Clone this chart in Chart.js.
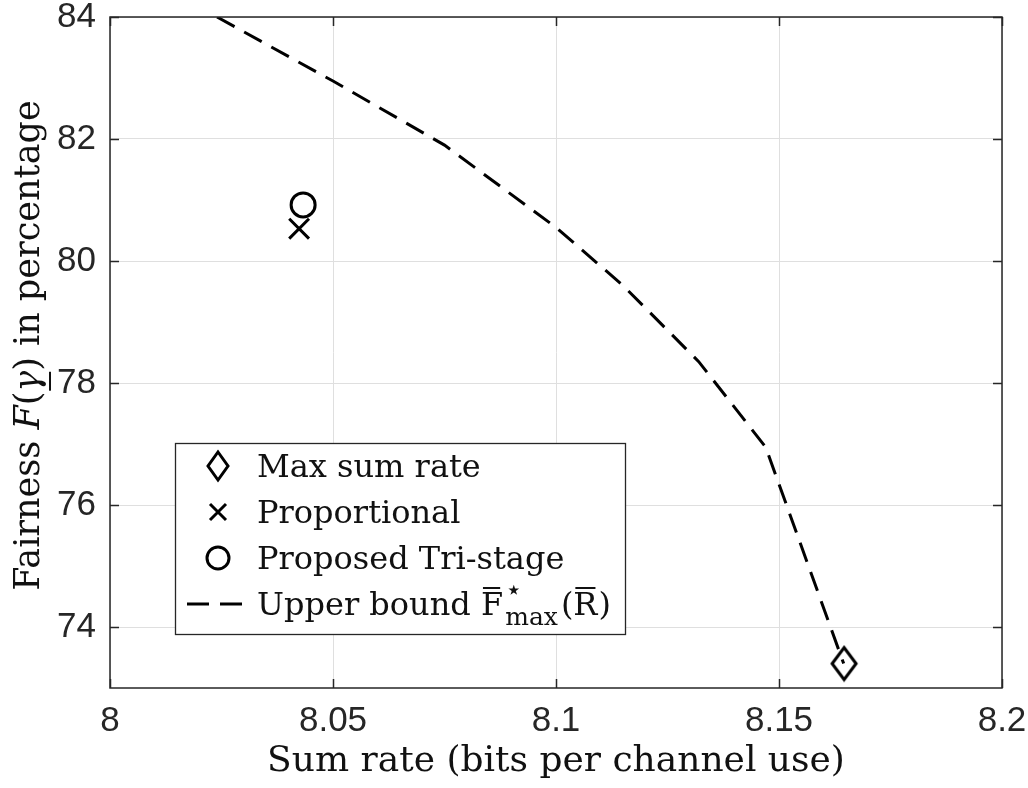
<!DOCTYPE html>
<html><head><meta charset="utf-8">
<script src="https://cdn.jsdelivr.net/npm/chart.js@4/dist/chart.umd.min.js"></script>
<style>html,body{margin:0;padding:0;background:#fff}#wrap{width:1028px;height:788px;position:relative}</style>
</head><body>
<div id="wrap"><canvas id="c" width="1028" height="788"></canvas></div>
<script>
// ---- data ----
const xTicks = [8, 8.05, 8.1, 8.15, 8.2];
const yTicks = [74, 76, 78, 80, 82, 84];
const seriesNames = ['Max sum rate', 'Proportional', 'Proposed Tri-stage', 'Upper bound'];
const maxSumX = [8.1646];
const maxSumY = [73.40];
const propX = [8.0424];
const propY = [80.53];
const triX = [8.0433];
const triY = [80.92];
const boundX = [8.024, 8.05, 8.075, 8.1, 8.115, 8.132, 8.147, 8.1645];
const boundY = [84.0, 82.95, 81.9, 80.55, 79.6, 78.35, 76.95, 73.4];

const pts = (xs, ys) => xs.map((x, i) => ({x: x, y: ys[i]}));
const AX = '#262626';

function diamondImg(w, h, lw) {
  const c = document.createElement('canvas');
  c.width = w + lw * 2; c.height = h + lw * 2;
  const g = c.getContext('2d');
  g.strokeStyle = '#000'; g.lineWidth = lw; g.lineJoin = 'miter';
  const cx = c.width / 2, cy = c.height / 2;
  g.beginPath();
  g.moveTo(cx, cy - h / 2); g.lineTo(cx + w / 2, cy); g.lineTo(cx, cy + h / 2); g.lineTo(cx - w / 2, cy); g.closePath();
  g.stroke();
  return c;
}

const frame = {
  id: 'frame',
  afterDraw(chart) {
    const {ctx, chartArea: a, scales} = chart;
    ctx.save();
    ctx.strokeStyle = AX; ctx.lineWidth = 1.5;
    ctx.strokeRect(a.left, a.top, a.right - a.left, a.bottom - a.top);
    ctx.beginPath();
    scales.x.ticks.forEach(t => {
      const px = Math.round(scales.x.getPixelForValue(t.value)) + 0.5;
      ctx.moveTo(px, a.bottom); ctx.lineTo(px, a.bottom - 9);
      ctx.moveTo(px, a.top); ctx.lineTo(px, a.top + 9);
    });
    scales.y.ticks.forEach(t => {
      const py = Math.round(scales.y.getPixelForValue(t.value)) + 0.5;
      ctx.moveTo(a.left, py); ctx.lineTo(a.left + 9, py);
      ctx.moveTo(a.right, py); ctx.lineTo(a.right - 9, py);
    });
    ctx.stroke();

    // y-axis title with italic math pieces
    const fs = 35;
    const pieces = [
      ['Fairness ', ''], ['F', 'italic '], ['(', ''], ['γ', 'italic ', true], [')', ''], [' in percentage', '']
    ];
    let total = 0;
    pieces.forEach(p => { ctx.font = p[1] + fs + 'px "DejaVu Serif"'; p.w = ctx.measureText(p[0]).width; total += p.w; });
    ctx.translate(27, (a.top + a.bottom) / 2 - 7);
    ctx.rotate(-Math.PI / 2);
    ctx.fillStyle = '#111'; ctx.textBaseline = 'alphabetic';
    let x = -total / 2;
    const base = 12;
    pieces.forEach(p => {
      ctx.font = p[1] + fs + 'px "DejaVu Serif"';
      ctx.fillText(p[0], x, base);
      if (p[2]) {
        ctx.fillRect(x + 1, base + 10, p.w - 2, 2);
      }
      x += p.w;
    });
    ctx.restore();

    // legend
    ctx.save();
    const L = 175, T = 443, R = 625, B = 634;
    ctx.fillStyle = '#fff'; ctx.fillRect(L, T, R - L, B - T);
    ctx.strokeStyle = AX; ctx.lineWidth = 1.3; ctx.strokeRect(L + 0.5, T + 0.5, R - L, B - T);
    const mx = 218, tx = 257;
    const rows = [466, 512, 558, 604];
    ctx.strokeStyle = '#000'; ctx.lineWidth = 3;
    // diamond
    ctx.beginPath();
    ctx.moveTo(mx, rows[0] - 14); ctx.lineTo(mx + 10, rows[0]); ctx.lineTo(mx, rows[0] + 14); ctx.lineTo(mx - 10, rows[0]); ctx.closePath(); ctx.stroke();
    // cross
    ctx.beginPath();
    ctx.moveTo(mx - 8, rows[1] - 8); ctx.lineTo(mx + 8, rows[1] + 8);
    ctx.moveTo(mx + 8, rows[1] - 8); ctx.lineTo(mx - 8, rows[1] + 8); ctx.stroke();
    // circle
    ctx.beginPath(); ctx.arc(mx, rows[2], 11, 0, Math.PI * 2); ctx.stroke();
    // dashed
    ctx.beginPath(); ctx.setLineDash([22, 11]);
    ctx.moveTo(187, rows[3]); ctx.lineTo(242, rows[3]); ctx.stroke();
    ctx.setLineDash([]);
    ctx.fillStyle = '#111'; ctx.textBaseline = 'alphabetic';
    const lf = 32, bl = 11;
    ctx.font = lf + 'px "DejaVu Serif"';
    for (let i = 0; i < 3; i++) ctx.fillText(seriesNames[i], tx, rows[i] + bl);
    let x2 = tx;
    const y3 = rows[3] + bl;
    const put = (s, f, dy) => { ctx.font = f; ctx.fillText(s, x2, y3 + dy); x2 += ctx.measureText(s).width; };
    put(seriesNames[3] + ' ', lf + 'px "DejaVu Serif"', 0);
    ctx.font = lf + 'px "DejaVu Serif"';
    const fw = ctx.measureText('F').width;
    ctx.fillRect(x2 + 2, y3 - 28, fw - 5, 2);
    put('F', lf + 'px "DejaVu Serif"', 0);
    x2 += 2;
    const xs = x2;
    put('\u22C6', '28px "DejaVu Serif"', -16);
    x2 = xs;
    put('max', '25px "DejaVu Serif"', 10);
    x2 += 3;
    put('(', lf + 'px "DejaVu Serif"', 0);
    ctx.font = lf + 'px "DejaVu Serif"';
    const rw = ctx.measureText('R').width;
    ctx.fillRect(x2 + 2, y3 - 28, rw - 4, 2);
    put('R', lf + 'px "DejaVu Serif"', 0);
    x2 += 1;
    put(')', lf + 'px "DejaVu Serif"', 0);
    ctx.restore();
  }
};

new Chart(document.getElementById('c'), {
  type: 'scatter',
  data: {
    datasets: [
      {label: seriesNames[0], data: pts(maxSumX, maxSumY), pointStyle: diamondImg(24, 32, 3), pointRadius: 16, borderColor: '#000', backgroundColor: 'rgba(0,0,0,0)'},
      {label: seriesNames[1], data: pts(propX, propY), pointStyle: 'crossRot', pointRadius: 14, borderWidth: 3, borderColor: '#000', backgroundColor: 'rgba(0,0,0,0)'},
      {label: seriesNames[2], data: pts(triX, triY), pointStyle: 'circle', pointRadius: 12, borderWidth: 3, borderColor: '#000', backgroundColor: 'rgba(0,0,0,0)'},
      {label: seriesNames[3], data: pts(boundX, boundY), showLine: true, pointRadius: 0, borderWidth: 3, borderDash: [20, 11], borderColor: '#000', backgroundColor: 'rgba(0,0,0,0)', order: 5}
    ]
  },
  options: {
    responsive: false,
    animation: false,
    devicePixelRatio: 1,
    layout: {padding: {left: 0, right: 26, top: 17, bottom: 0}},
    plugins: {legend: {display: false}, tooltip: {enabled: false}},
    scales: {
      x: {
        type: 'linear', min: 8, max: 8.2,
        afterBuildTicks: s => { s.ticks = xTicks.map(v => ({value: v})); },
        afterFit: s => { s.height = 100; s.paddingLeft = 0; s.paddingRight = 0; },
        grid: {color: '#dfdfdf', lineWidth: 1, drawTicks: false},
        border: {display: false},
        ticks: {color: AX, padding: 12, font: {family: '"Liberation Sans"', size: 35}, callback: v => String(v), maxRotation: 0},
        title: {display: true, text: 'Sum rate (bits per channel use)', color: '#111', font: {family: '"DejaVu Serif"', size: 36}, padding: {top: 0, bottom: 5}}
      },
      y: {
        type: 'linear', min: 73, max: 84,
        afterBuildTicks: s => { s.ticks = yTicks.map(v => ({value: v})); },
        afterFit: s => { s.width = 110; s.paddingTop = 0; s.paddingBottom = 0; },
        grid: {color: '#dfdfdf', lineWidth: 1, drawTicks: false},
        border: {display: false},
        ticks: {color: AX, padding: 14, font: {family: '"Liberation Sans"', size: 35}, callback: v => String(v)}
      }
    }
  },
  plugins: [frame]
});
</script>
</body></html>
